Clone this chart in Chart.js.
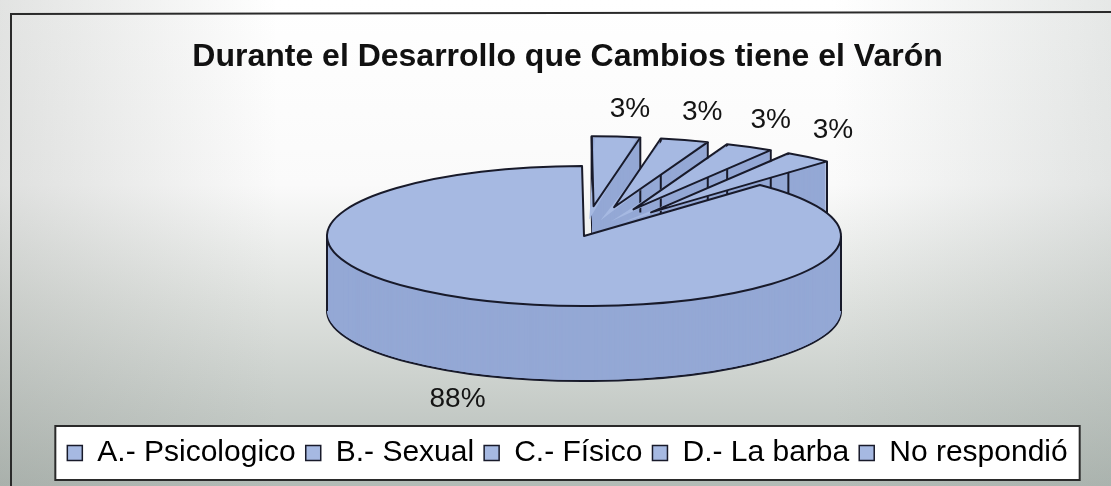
<!DOCTYPE html>
<html>
<head>
<meta charset="utf-8">
<script src="https://cdn.jsdelivr.net/npm/chart.js@4.4.1/dist/chart.umd.min.js"></script>
<style>
  html, body { margin: 0; padding: 0; background: #fff; overflow: hidden; }
  #wrap { width: 1111px; height: 486px; }
</style>
</head>
<body>
<div id="wrap"><canvas id="pastel" width="1111" height="486"></canvas></div>
<script>
// datos
const categorias = ['A.- Psicologico', 'B.- Sexual', 'C.- Físico', 'D.- La barba', 'No respondió'];
const respuestas = [29, 1, 1, 1, 1];
const titulo = 'Durante el Desarrollo que Cambios tiene el Varón';

const FONT = "'Liberation Sans', Arial, sans-serif";
const TOP = '#a6b9e2';
const SIDE = '#94a8d5';
const LINE = '#181a2a';

// donde cae la elipse del pastel 3d en pantalla
const pie3d = { cx: 584, cy: 236, rx: 257, ry: 70, depth: 75 };

function base(chart) {
  const a = chart.getDatasetMeta(0).data[0];
  const p = a.getProps(['x', 'y', 'outerRadius'], true);
  return { x: p.x, y: p.y, R: p.outerRadius };
}

function applyT(ctx, b, dy) {
  ctx.translate(pie3d.cx, pie3d.cy + dy);
  ctx.scale(pie3d.rx / b.R, pie3d.ry / b.R);
  ctx.translate(-b.x, -b.y);
}

// same shift that ArcElement.draw uses for options.offset
function shiftOf(a) {
  const p = a.getProps(['startAngle', 'endAngle'], true);
  const off = (a.options.offset || 0) / 4;
  const fix = 1 - Math.sin(Math.min(Math.PI, p.endAngle - p.startAngle));
  return off + off * fix;
}

function wedge(ctx, a) {
  const p = a.getProps(['x', 'y', 'startAngle', 'endAngle', 'outerRadius'], true);
  const mid = (p.startAngle + p.endAngle) / 2;
  const s = shiftOf(a);
  const x = p.x + Math.cos(mid) * s, y = p.y + Math.sin(mid) * s;
  ctx.moveTo(x, y);
  ctx.arc(x, y, p.outerRadius, p.startAngle, p.endAngle);
  ctx.closePath();
}

function toScreen(b, px, py, dy) {
  return [pie3d.cx + (px - b.x) * pie3d.rx / b.R, pie3d.cy + dy + (py - b.y) * pie3d.ry / b.R];
}

const fondo = {
  id: 'fondo',
  beforeDraw(chart) {
    const ctx = chart.ctx, w = chart.width, h = chart.height;
    ctx.save();
    let g = ctx.createLinearGradient(0, 0, 0, h);
    g.addColorStop(0, '#ffffff');
    g.addColorStop(0.38, '#fafafa');
    g.addColorStop(0.62, '#dfe2df');
    g.addColorStop(1, '#b3bbb6');
    ctx.fillStyle = g;
    ctx.fillRect(0, 0, w, h);
    g = ctx.createLinearGradient(0, 0, w, 0);
    g.addColorStop(0, 'rgba(140,145,140,0.25)');
    g.addColorStop(0.25, 'rgba(140,145,140,0)');
    g.addColorStop(0.75, 'rgba(140,150,145,0)');
    g.addColorStop(1, 'rgba(140,150,145,0.22)');
    ctx.fillStyle = g;
    ctx.fillRect(0, 0, w, h);
    // marco del grafico
    ctx.strokeStyle = '#2a2a2a';
    ctx.lineWidth = 2;
    ctx.beginPath();
    ctx.moveTo(11, h);
    ctx.lineTo(11, 14);
    ctx.lineTo(w, 12);
    ctx.stroke();
    // caja de la leyenda
    const boxes = chart.legend.legendHitBoxes;
    if (boxes && boxes.length) {
      const l = Math.min(...boxes.map(b => b.left)) - 12;
      const r = Math.max(...boxes.map(b => b.left + b.width)) + 12;
      const cy = boxes[0].top + boxes[0].height / 2;
      ctx.fillStyle = '#ffffff';
      ctx.fillRect(l, cy - 27, r - l, 54);
      ctx.lineWidth = 2;
      ctx.strokeRect(l, cy - 27, r - l, 54);
    }
    ctx.restore();
  }
};

const pastel3d = {
  id: 'pastel3d',
  beforeDatasetsDraw(chart) {
    const ctx = chart.ctx, b = base(chart), arcs = chart.getDatasetMeta(0).data;
    const D = pie3d.depth;
    ctx.save();
    // fondo del cilindro
    ctx.beginPath();
    ctx.save(); applyT(ctx, b, D); arcs.forEach(a => wedge(ctx, a)); ctx.restore();
    ctx.fillStyle = SIDE; ctx.fill();
    ctx.lineWidth = 2; ctx.strokeStyle = LINE; ctx.lineJoin = 'round'; ctx.stroke();
    for (let d = D - 1; d >= 1; d--) {
      ctx.beginPath();
      ctx.save(); applyT(ctx, b, d); arcs.forEach(a => wedge(ctx, a)); ctx.restore();
      ctx.fill();
    }
    // aristas verticales
    ctx.beginPath();
    arcs.forEach((a, i) => {
      const p = a.getProps(['x', 'y', 'startAngle', 'endAngle', 'outerRadius'], true);
      const mid = (p.startAngle + p.endAngle) / 2, s = shiftOf(a);
      const x = p.x + Math.cos(mid) * s, y = p.y + Math.sin(mid) * s;
      const angs = [];
      if (i === 0) {
        for (const k of [0, Math.PI]) {
          let t = k; while (t < p.startAngle) t += 2 * Math.PI;
          if (t <= p.endAngle) angs.push(t);
        }
      } else {
        angs.push(p.startAngle, p.endAngle);
      }
      angs.forEach(t => {
        const [sx, sy] = toScreen(b, x + Math.cos(t) * p.outerRadius, y + Math.sin(t) * p.outerRadius, 0);
        ctx.moveTo(sx, sy); ctx.lineTo(sx, sy + D);
      });
    });
    ctx.stroke();
    ctx.restore();
    ctx.save();
    applyT(ctx, b, 0);
  },
  afterDatasetsDraw(chart) {
    const ctx = chart.ctx;
    ctx.restore();
    const b = base(chart), arcs = chart.getDatasetMeta(0).data;
    ctx.save();
    ctx.beginPath();
    ctx.save(); applyT(ctx, b, 0); arcs.forEach(a => wedge(ctx, a)); ctx.restore();
    ctx.lineWidth = 2; ctx.strokeStyle = LINE; ctx.lineJoin = 'round'; ctx.stroke();
    // porcentajes
    const total = respuestas.reduce((s, v) => s + v, 0);
    ctx.fillStyle = '#141414';
    ctx.font = '28px ' + FONT;
    ctx.textAlign = 'center';
    ctx.textBaseline = 'middle';
    arcs.forEach((a, i) => {
      const p = a.getProps(['x', 'y', 'startAngle', 'endAngle', 'outerRadius'], true);
      const mid = (p.startAngle + p.endAngle) / 2;
      const r = shiftOf(a) + p.outerRadius * (i === 0 ? 1.35 : 1.08);
      const lower = Math.sin(mid) > 0;
      let [sx, sy] = toScreen(b, p.x + Math.cos(mid) * r, p.y + Math.sin(mid) * r, lower ? pie3d.depth : 0);
      if (!lower) { sy -= 22; sx += 12; }
      ctx.fillText(Math.round(respuestas[i] / total * 100) + '%', sx, sy);
    });
    ctx.restore();
  }
};

new Chart(document.getElementById('pastel'), {
  type: 'pie',
  data: {
    labels: categorias,
    datasets: [{
      data: respuestas,
      backgroundColor: TOP,
      borderWidth: 0,
      offset: [0, 110, 110, 110, 110]
    }]
  },
  options: {
    responsive: false,
    animation: false,
    rotation: 43.2,
    layout: { padding: { top: 20, left: 24, right: 0, bottom: 8 } },
    plugins: {
      tooltip: { enabled: false },
      title: {
        display: true,
        text: titulo,
        color: '#111',
        font: { family: FONT, size: 32, weight: 'bold' },
        padding: { top: 18, bottom: 8 }
      },
      legend: {
        position: 'bottom',
        labels: {
          color: '#111',
          font: { family: FONT, size: 30 },
          boxWidth: 15,
          boxHeight: 15,
          padding: 10,
          generateLabels(chart) {
            return categorias.map((c, i) => ({
              text: c, fillStyle: TOP, strokeStyle: LINE, lineWidth: 1.5, index: i, hidden: false
            }));
          }
        }
      }
    }
  },
  plugins: [fondo, pastel3d]
});
</script>
</body>
</html>
